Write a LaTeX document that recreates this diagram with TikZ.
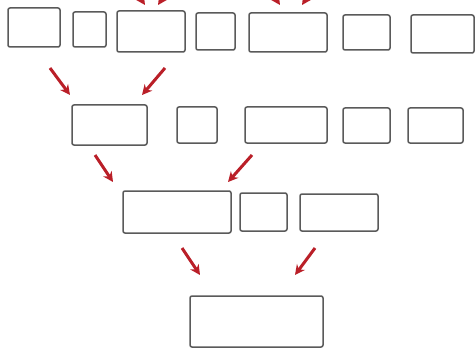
\documentclass[tikz,border=0pt]{standalone}
\usepackage{tikz}
\usetikzlibrary{arrows.meta}
\usepackage{xcolor}
\definecolor{arrred}{HTML}{BA1F28}
\definecolor{boxgray}{HTML}{5A5A5A}

\begin{document}
\begin{tikzpicture}[
    x=1pt, y=-1pt,
    cell/.style={draw=boxgray, line width=1.5pt, rounded corners=2pt, fill=white,
                 inner sep=0pt},
    arr/.style={-{Stealth[length=10pt, width=10pt]}, line width=3pt, draw=arrred},
]
\clip (0,0) rectangle (476,350);
\fill[white] (0,0) rectangle (476,350);

% Row 1
\node[cell, minimum width=52pt,  minimum height=39pt] (r1a) at (34,27.5)    {};
\node[cell, minimum width=33pt,  minimum height=35pt] (r1b) at (89.5,29.5)  {};
\node[cell, minimum width=68pt,  minimum height=41pt] (r1c) at (151,31.5)   {};
\node[cell, minimum width=39pt,  minimum height=37pt] (r1d) at (215.5,31.5) {};
\node[cell, minimum width=78pt,  minimum height=39pt] (r1e) at (288,32.5)   {};
\node[cell, minimum width=47pt,  minimum height=35pt] (r1f) at (366.5,32.5) {};
\node[cell, minimum width=63pt,  minimum height=38pt] (r1g) at (442.5,34)   {};

% Row 2
\node[cell, minimum width=75pt,  minimum height=40pt] (r2a) at (109.5,125)  {};
\node[cell, minimum width=40pt,  minimum height=36pt] (r2b) at (197,125)    {};
\node[cell, minimum width=82pt,  minimum height=36pt] (r2c) at (286,125)    {};
\node[cell, minimum width=47pt,  minimum height=35pt] (r2d) at (366.5,125.5) {};
\node[cell, minimum width=55pt,  minimum height=35pt] (r2e) at (435.5,125.5) {};

% Row 3
\node[cell, minimum width=108pt, minimum height=42pt] (r3a) at (177,212)    {};
\node[cell, minimum width=47pt,  minimum height=38pt] (r3b) at (263.5,212)  {};
\node[cell, minimum width=78pt,  minimum height=37pt] (r3c) at (339,212.5)  {};

% Row 4
\node[cell, minimum width=133pt, minimum height=51pt] (r4a) at (256.5,321.5) {};

% Arrow ends
\coordinate (t1s) at (127,-22);  \coordinate (t1e) at (145,5);
\coordinate (t2s) at (176,-22);  \coordinate (t2e) at (158,5);
\coordinate (t3s) at (262,-22);  \coordinate (t3e) at (280,5);
\coordinate (t4s) at (320,-22);  \coordinate (t4e) at (302,5);
\coordinate (a1s) at (50,68);    \coordinate (a1e) at (70,95);
\coordinate (a2s) at (165,68);   \coordinate (a2e) at (142,95);
\coordinate (b1s) at (95,155);   \coordinate (b1e) at (113,182);
\coordinate (b2s) at (252,155);  \coordinate (b2e) at (228,182);
\coordinate (c1s) at (182,248);  \coordinate (c1e) at (200,275);
\coordinate (c2s) at (315,248);  \coordinate (c2e) at (295,275);

% Arrows
\draw[arr] (t1s) -- (t1e);
\draw[arr] (t2s) -- (t2e);
\draw[arr] (t3s) -- (t3e);
\draw[arr] (t4s) -- (t4e);
\draw[arr] (a1s) -- (a1e);
\draw[arr] (a2s) -- (a2e);
\draw[arr] (b1s) -- (b1e);
\draw[arr] (b2s) -- (b2e);
\draw[arr] (c1s) -- (c1e);
\draw[arr] (c2s) -- (c2e);
\end{tikzpicture}
\end{document}
